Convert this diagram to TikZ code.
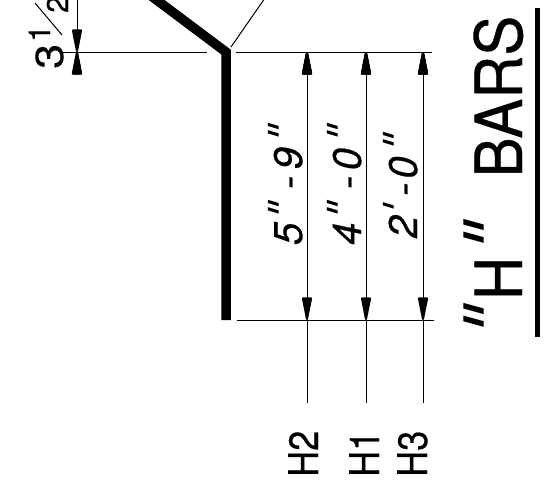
\documentclass[tikz,border=0pt]{standalone}
\usepackage{fontspec}
\setmainfont[FakeBold=0.5]{TeX Gyre Heros}
\newfontfamily\primefont[FakeSlant=0.3]{DejaVu Sans}
\usetikzlibrary{arrows.meta}
\tikzset{
  thinline/.style={-,line width=1pt,draw=black},
  barline/.style={-,line width=9.5pt,draw=black,line join=miter},
  dimtip/.tip={Triangle[length=27pt,width=10pt,line width=2pt,round]},
  dimline/.style={dimtip-dimtip,line width=1pt,draw=black},
  dimtext/.style={rotate=90,anchor=base west,inner sep=0pt,font=\fontsize{40}{40}\selectfont\itshape},
  marktext/.style={rotate=90,anchor=base west,inner sep=0pt,xscale=0.88,font=\fontsize{41}{41}\selectfont},
  fractext/.style={rotate=90,anchor=base west,inner sep=0pt,font=\fontsize{30}{30}\selectfont},
}
\newcommand{\primes}{\raisebox{5pt}{\primefont\upshape"}}
\newcommand{\prim}{\raisebox{5pt}{\primefont\upshape'}}
\newcommand{\bigprimes}{\raisebox{4pt}{\fontsize{75}{75}\selectfont\primefont\upshape"}}
\begin{document}
\begin{tikzpicture}[x=1pt,y=-1pt]
\useasboundingbox (0,0) rectangle (549,491);
\coordinate (A) at (150,-5);
\coordinate (B) at (226,52);
\coordinate (C) at (226,320);
\coordinate (D) at (231,47);
\coordinate (E) at (265,-2);
\coordinate (L1) at (63,52);
\coordinate (L2) at (207,52);
\coordinate (L3) at (236,52);
\coordinate (L4) at (432,52);
\coordinate (L5) at (237,320);
\coordinate (L6) at (434,320);
\coordinate (F1) at (77,52);
\coordinate (F2) at (77,-24);
\coordinate (S1) at (35,3);
\coordinate (S2) at (62,35);
\coordinate (U1) at (537,8);
\coordinate (U2) at (537,337);
\foreach \name/\xpos in {H2/307,H1/366,H3/423}{
  \coordinate (\name top) at (\xpos,52);
  \coordinate (\name bot) at (\xpos,320);
  \coordinate (\name end) at (\xpos,403);
}
\draw [barline] (A) -- (B) -- (C);
\path [thinline] (D) edge (E);
\path [thinline] (L1) edge (L2);
\path [thinline] (L3) edge (L4);
\path [thinline] (L5) edge (L6);
\path [thinline] (S1) edge (S2);
\path [dimline] (F1) edge (F2);
\foreach \name in {H2,H1,H3}{
  \path [dimline] (\name top) edge (\name bot);
  \path [thinline] (\name bot) edge (\name end);
}
\path [-,line width=5pt,draw=black] (U1) edge (U2);
\node[marktext] (H2) at (318,477) {H2};
\node[marktext] (H1) at (379,477) {H1};
\node[marktext] (H3) at (427,477) {H3};
\node[dimtext] (five) at (302,245) {5\kern-1pt\primes\kern16pt-\kern6.5pt9\kern1pt\primes};
\node[dimtext] (four) at (361,245) {4\kern-1pt\primes\kern16pt-\kern5.5pt0\kern2pt\primes};
\node[dimtext] (two) at (417,238) {2\kern-3pt\prim\kern11.5pt-\kern4pt0\kern1.5pt\primes};
\node[rotate=90,anchor=base west,inner sep=0pt,xscale=1.15,font=\fontsize{39}{39}\selectfont] (three) at (63,69) {3};
\node[fractext] (num) at (50,42) {1};
\node[fractext] (den) at (68,13) {2};
\node[rotate=90,anchor=base west,inner sep=0pt,xscale=0.92,font=\fontsize{65}{65}\selectfont] (title) at (522,344)
  {\bigprimes\kern13pt H\kern-3pt\bigprimes\kern55pt BARS};
\end{tikzpicture}
\end{document}
